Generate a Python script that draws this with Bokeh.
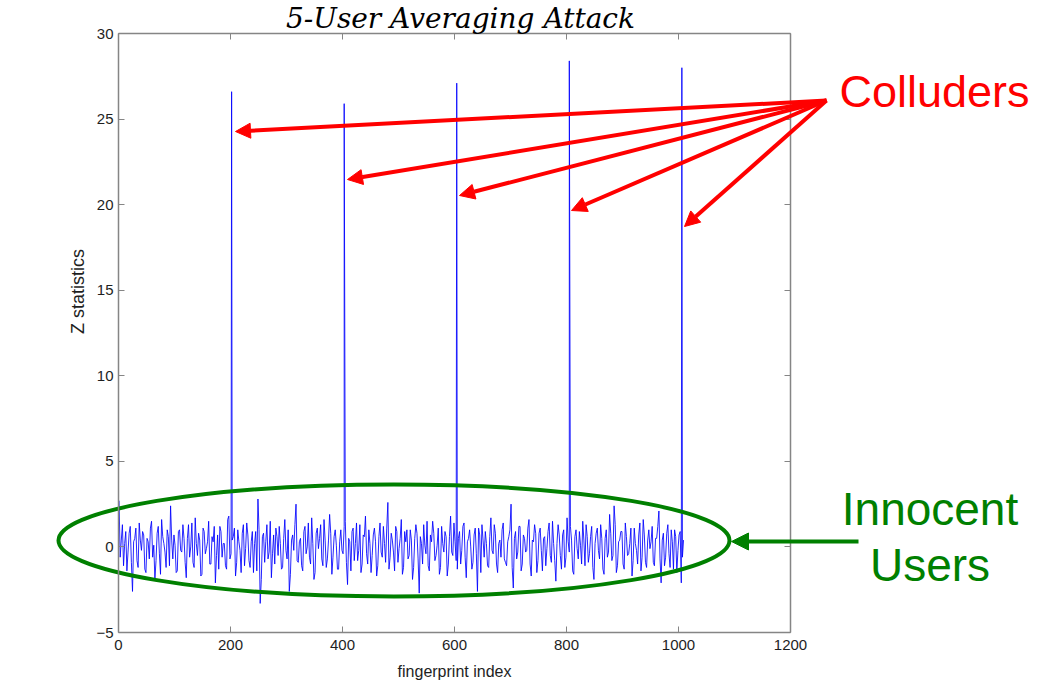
import math
from bokeh.plotting import figure
from bokeh.models import (LinearAxis, FixedTicker, Range1d, Label, Arrow,
                          NormalHead, ColumnDataSource)
from bokeh.embed import file_html
from bokeh.resources import INLINE

# ---------------- data ----------------
noise_step = 4
noise_start_a = 1
noise_z_a = [
    2.7, 0.4, -1.1, 0.9, -0.3, 1.2, -2.6, 0.5, -0.8, 1.4,
    -0.2, 0.7, -1.5, 0.3, 1.1, -0.6, -1.9, 0.8, -0.4, 1.6,
    0.2, -1.2, 0.6, 2.4, -0.7, 0.1, -1.4, 1.0, -0.3, 0.5,
    -1.8, 1.3, 0.0, -0.9, 1.7, -0.5, 0.4, -1.6, 0.9, -0.1,
    1.5, -1.0, 0.3, -2.1, 0.7, 1.2, -0.6, 0.2, -1.3, 1.8,
    -0.4, 0.6, -1.7, 1.0, -0.2, 0.8, -1.1, 1.4, -0.8, 0.3,
    -1.5, 0.9, 2.8, -3.3, 0.6, -0.9, 1.3, -0.3, -1.8, 0.7,
    1.1, -0.5, 0.2, -1.2, 1.6, -0.7, -2.6, 0.4, -0.2, 2.5,
    -0.9, 0.5, -1.4, 1.2, 0.0, -0.6, 1.7, -1.9, 0.8, -0.1,
    1.3, -1.1, 0.4, -0.7, 1.9, -1.6, 0.6, 0.1, -1.3, 1.0,
    -0.4, 1.5, -2.2, 0.3, 0.9, -0.8, 1.4, -0.2, -1.5, 0.7,
    1.8, -1.0, 0.2, -0.5, 1.1, -1.7, 0.6, -0.3, 1.2, -0.9,
    2.6, -0.6, 0.4, -1.4, 0.9, -0.1, 1.6, -1.2, 0.3, -0.7,
    1.0, -1.9, 0.5, 0.8, -2.7, 0.2, 1.3, -0.4, -1.1, 0.7,
    1.5, -0.8, 0.1, -1.6, 1.2, -0.3, 0.6, -1.0, 1.8, -0.5,
    0.3, -1.3, 0.9, -0.2, 1.4, -1.8, 0.5, 0.0, -0.9, 1.1,
    -2.6, 0.7, 1.3, -0.6, 0.2, -1.2, 1.7, -0.4, 0.8, -1.5,
    0.4, 1.0, -0.7, -1.1, 0.6, 2.5, -2.4, 0.9, -0.3, 1.2,
    -1.0, 0.5, -0.2, 1.6, -1.7, 0.3, 0.8, -0.8, 1.1, -1.4,
    0.6, -0.1, 1.4, -0.9, 0.2, -2.0, 1.3, -0.5, 0.7, -1.2,
    1.7, -0.3, 0.4, -1.6, 1.0, -0.7, 0.1, 1.5, -1.1, 0.6,
    -0.4, 1.2, -1.9, 0.8, -0.2, 1.3, -1.3, 0.5, -0.6, 1.9,
    -0.8, 2.4, -1.5, 0.3, 0.9, -1.0, 1.4, -0.5, 0.2, -1.7,
    1.1, -0.2, 0.7, -1.4, 1.6, -0.9, 0.4, -0.1, 1.2, -1.1,
    0.5, 2.1, -2.1, 0.8, -0.6, 1.3, -1.2, 0.3, 1.0, -1.5,
    0.7, -2.1, 0.4,
]
noise_start_b = 3
noise_z_b = [
    -0.6, 1.3, 0.2, -1.4, 0.8, -0.9, 0.3, 1.1, -1.2, 0.4,
    0.9, -1.3, 0.5, -0.7, 1.5, 0.1, -0.8, 1.2, -1.6, 0.6,
    -0.3, 1.0, -1.1, 0.4, 0.7, -1.5, 0.9, -0.2, 1.3, -0.9,
    0.5, -0.6, 1.4, -1.2, 0.2, 0.8, -1.7, 1.1, -0.4, 0.3,
    -1.0, 0.6, 1.2, -0.5, -1.3, 0.9, 0.2, -1.1, 1.6, -0.7,
    0.4, 1.1, -0.9, 0.3, -1.5, 1.3, -0.1, 0.7, -1.2, 0.9,
    0.2, -1.4, 1.0, -1.9, 0.8, 0.3, -0.7, 1.5, -0.4, -1.0,
    0.6, 1.2, -1.3, 0.5, -0.2, 1.0, -1.6, 0.7, 1.3, -0.8,
    0.3, -1.1, 0.9, -0.4, 1.4, -1.0, 0.2, -1.5, 1.1, 0.5,
    -0.7, 1.6, -1.2, 0.4, 0.8, -0.6, 1.0, -1.3, 0.3, -0.2,
    1.2, -0.9, 0.5, -1.4, 1.1, 0.2, -0.8, 1.3, -1.0, 0.6,
    -0.4, 1.0, -1.5, 0.7, 0.3, -1.1, 1.4, -0.6, 0.2, 1.1,
    -1.3, 0.8, -0.3, 1.2, -0.9, 0.5, -1.6, 0.9, 1.0, -0.5,
    0.4, -1.2, 1.3, -0.7, 0.6, -1.0, 0.1, 1.5, -1.4, 0.3,
    0.8, -0.5, 1.1, -1.2, 0.2, 0.9, -1.7, 0.6, -0.3, 1.4,
    -0.8, 0.5, -1.0, 1.2, -0.6, 0.3, 1.0, -1.3, 0.7, -0.4,
    1.1, -1.5, 0.4, 0.9, -1.1, 0.6, -0.2, 1.3, -1.0, 0.2,
    -0.6, 1.4, -0.9, 0.3, 1.0, -1.2, 0.5, -0.7, 1.2, -1.4,
    0.7, -0.3, 1.1, -1.0, 0.4, 1.3, -1.5, 0.8, -0.2, 0.5,
    -1.1, 0.9, -0.5, 1.5, -0.8, 0.2, 0.7, -1.3, 1.0, -0.6,
    0.3, 1.2, -1.4, 0.6, -0.1, 0.9, -1.0, 0.4, 1.3, -0.9,
    0.6, -1.2, 0.2, 1.1, -0.7, 0.5, -1.6, 1.0, -0.3, 0.8,
    -0.5, 1.3, -1.1, 0.4, 0.9, -1.3, 0.6, -0.4, 1.1, -0.8,
    0.2, -1.0, 1.4, -0.6, 0.7, -1.2, 1.0, 0.3, -0.9, 0.5,
    1.2, -0.7, 0.4, -1.1, 0.8, -0.4, 1.0, -1.3, 0.6, -0.2,
    0.9, -0.6,
]
colluder_index = [202, 403, 604, 805, 1006]
colluder_z = [26.6, 25.9, 27.1, 28.4, 28.0]

x_ticks = [0, 200, 400, 600, 800, 1000, 1200]
y_ticks = [-5, 0, 5, 10, 15, 20, 25, 30]

title_text = "5-User Averaging Attack"
x_label = "fingerprint index"
y_label = "Z statistics"

# ---------------- build series ----------------
xa = [noise_start_a + noise_step * i for i in range(len(noise_z_a))]
xb = [noise_start_b + noise_step * i for i in range(len(noise_z_b))]
pts = sorted(zip(xa + xb + colluder_index, noise_z_a + noise_z_b + colluder_z))
src = ColumnDataSource(dict(x=[a for a, b in pts], z=[b for a, b in pts]))

# plot box: x 0..1200 -> px 118..790, y 30..-5 -> px 33..632
W, H = 1038, 682
XS = 672 / 1200.0
YS = 599 / 35.0
x_rng = Range1d(-118 / XS, (W - 118) / XS)
y_rng = Range1d(-5 - (H - 632) / YS, 30 + 33 / YS)

p = figure(width=W, height=H, x_range=x_rng, y_range=y_rng,
           output_backend="svg", toolbar_location=None,
           x_axis_location=None, y_axis_location=None, min_border=0)
p.grid.visible = False
p.outline_line_color = None
p.background_fill_color = "white"
p.border_fill_color = "white"

AX_COL = "#858585"
TXT_COL = "#1e1e1e"


def make_axis(ticks, loc, bounds, labels=True):
    ax = LinearAxis(ticker=FixedTicker(ticks=ticks), fixed_location=loc,
                    bounds=bounds)
    ax.axis_line_color = AX_COL
    ax.axis_line_width = 1.5
    ax.major_tick_line_color = AX_COL
    ax.major_tick_line_width = 1
    ax.major_tick_in = 6
    ax.major_tick_out = 0
    ax.minor_tick_line_color = None
    ax.major_label_text_font = "Liberation Sans"
    ax.major_label_text_font_size = "15px"
    ax.major_label_text_color = TXT_COL if labels else None
    return ax


bottom = make_axis(x_ticks, -5, (0, 1200))
bottom.major_label_standoff = 7
bottom.axis_label = x_label
bottom.axis_label_text_font = "Liberation Sans"
bottom.axis_label_text_font_style = "normal"
bottom.axis_label_text_font_size = "16px"
bottom.axis_label_text_color = TXT_COL
bottom.axis_label_standoff = 10

left = make_axis(y_ticks, 0, (-5, 30))
left.major_label_standoff = 5

top = make_axis(x_ticks, 30, (0, 1200), labels=False)
right = make_axis(y_ticks, 1200, (-5, 30), labels=False)
p.add_layout(bottom, "below")
p.add_layout(left, "left")
p.add_layout(top, "above")
p.add_layout(right, "right")

p.line("x", "z", source=src, line_color="#0000ff", line_width=1, line_alpha=0.85)


# ---------------- annotations (pixel layout -> data) ----------------
def dx(px):
    return (px - 118) / XS


def dy(py):
    return 30 - (py - 33) / YS


GREEN = "#008000"
RED = "#ff0000"

p.ellipse(x=dx(393.5), y=dy(540), width=671 / XS, height=112 / YS,
          fill_color=None, line_color=GREEN, line_width=4)

p.add_layout(Arrow(end=NormalHead(size=17, fill_color=GREEN, line_color=GREEN),
                   x_start=dx(858), y_start=dy(541), x_end=dx(731), y_end=dy(541),
                   line_color=GREEN, line_width=4))

for tx, ty in [(235, 131), (347, 179), (459, 195), (571, 210), (684, 226)]:
    p.add_layout(Arrow(end=NormalHead(size=15, fill_color=RED, line_color=RED),
                       x_start=dx(826), y_start=dy(100), x_end=dx(tx), y_end=dy(ty),
                       line_color=RED, line_width=4))

p.add_layout(Label(x=dx(839), y=dy(91), text="Colluders", text_color=RED,
                   text_font="Liberation Sans", text_font_size="45px",
                   text_align="left", text_baseline="alphabetic"))
p.add_layout(Label(x=dx(929.5), y=dy(508), text="Innocent", text_color=GREEN,
                   text_font="Liberation Sans", text_font_size="46px",
                   text_align="center", text_baseline="alphabetic"))
p.add_layout(Label(x=dx(929.5), y=dy(564), text="Users", text_color=GREEN,
                   text_font="Liberation Sans", text_font_size="46px",
                   text_align="center", text_baseline="alphabetic"))
p.add_layout(Label(x=dx(460), y=dy(17.5), text=title_text, text_color="black",
                   text_font="DejaVu Serif", text_font_style="italic",
                   text_font_size="28px", text_align="center",
                   text_baseline="alphabetic"))
p.add_layout(Label(x=dx(77), y=dy(291), text=y_label, text_color=TXT_COL,
                   text_font="Liberation Sans", text_font_size="18px",
                   angle=math.pi / 2, text_align="center",
                   text_baseline="middle"))

open("out.html", "w").write(file_html(p, INLINE))
